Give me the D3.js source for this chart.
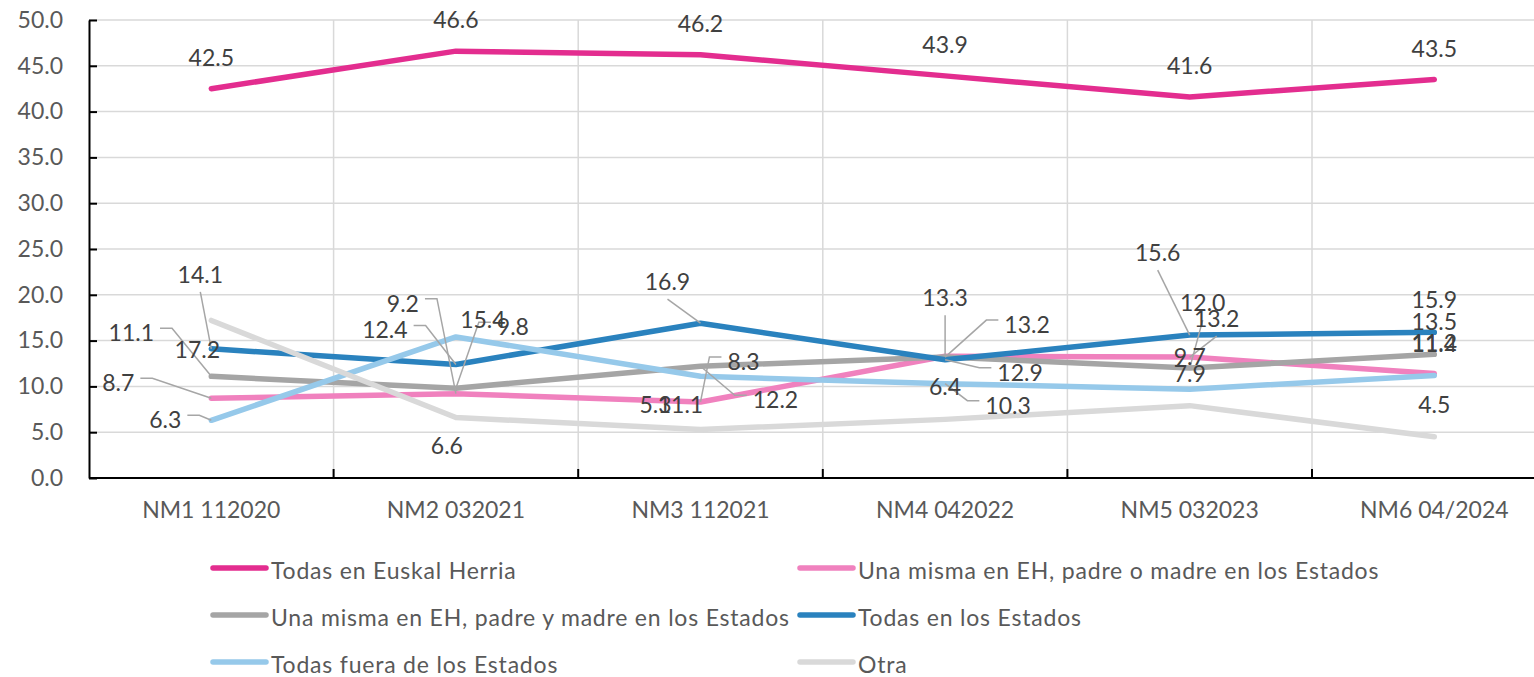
<!DOCTYPE html>
<html>
<head>
<meta charset="utf-8">
<script src="https://cdn.jsdelivr.net/npm/d3@7"></script>
<style>
  body { margin: 0; background: #fff; }
  svg { display: block; font-family: Lato, "Noto Sans", sans-serif; }
</style>
</head>
<body>
<svg id="chart" width="1534" height="677"></svg>
<script>
// data
var categories = ["NM1 112020", "NM2 032021", "NM3 112021", "NM4 042022", "NM5 032023", "NM6 04/2024"];
var seriesNames = [
  "Todas en Euskal Herria",
  "Una misma en EH, padre o madre en los Estados",
  "Una misma en EH, padre y madre en los Estados",
  "Todas en los Estados",
  "Todas fuera de los Estados",
  "Otra"
];
var todasEH      = [42.5, 46.6, 46.2, 43.9, 41.6, 43.5];
var padreOMadre  = [8.7, 9.2, 8.3, 13.3, 13.2, 11.4];
var padreYMadre  = [11.1, 9.8, 12.2, 13.2, 12.0, 13.5];
var todasEstados = [14.1, 12.4, 16.9, 12.9, 15.6, 15.9];
var todasFuera   = [6.3, 15.4, 11.1, 10.3, 9.7, 11.2];
var otra         = [17.2, 6.6, 5.3, 6.4, 7.9, 4.5];
var yTicks = [0, 5, 10, 15, 20, 25, 30, 35, 40, 45, 50];

var allValues = [todasEH, padreOMadre, padreYMadre, todasEstados, todasFuera, otra];
var colors = ["#e32d8f", "#f081be", "#a5a5a5", "#2a82be", "#96c9ea", "#d9d9d9"];

// where each data label sits, relative to its point [dx, dy, leader]
var labelPos = [
  [[0,-32,0],[0,-32,0],[0,-32,0],[0,-32,0],[0,-32,0],[0,-32,0]],
  [[-93,-16,1],[-53,-91,1],[43,-41,1],[0,-59,1],[27,-39,1],[0,-31,0]],
  [[-80,-44,1],[57,-62,1],[75,33,1],[82,-33,1],[13,-66,1],[0,-33,0]],
  [[-11,-75,1],[-71,-35,1],[-33,-42,1],[75,12,1],[-32,-83,1],[0,-33,0]],
  [[-46,-1,1],[27,-18,0],[-20,28,0],[63,21,1],[0,-33,0],[0,-33,0]],
  [[-14,29,0],[-9,27,0],[-45,-25,0],[0,-33,0],[0,-33,0],[0,-33,0]]
];

var svg = d3.select("#chart");
var plotLeft = 89, plotTop = 20, plotBottom = 478, bandW = 244.6;

var x = d3.scaleBand()
    .domain(categories)
    .range([plotLeft, plotLeft + bandW * categories.length]);
var y = d3.scaleLinear()
    .domain([0, 50])
    .range([plotBottom, plotTop]);
function cx(i) { return x(categories[i]) + x.bandwidth() / 2; }

// gridlines
svg.append("g")
  .selectAll("line")
  .data(yTicks.slice(1))
  .enter().append("line")
    .attr("x1", plotLeft).attr("x2", 1534)
    .attr("y1", function(d) { return y(d); })
    .attr("y2", function(d) { return y(d); })
    .attr("stroke", "#d9d9d9").attr("stroke-width", 1.5);

svg.append("g")
  .selectAll("line")
  .data(categories.slice(1))
  .enter().append("line")
    .attr("x1", function(d) { return x(d); })
    .attr("x2", function(d) { return x(d); })
    .attr("y1", plotTop).attr("y2", plotBottom)
    .attr("stroke", "#d9d9d9").attr("stroke-width", 1.5);

// y axis
var yAxis = svg.append("g")
    .attr("transform", "translate(" + plotLeft + ",0)")
    .call(d3.axisLeft(y)
      .tickValues(yTicks)
      .tickFormat(d3.format(".1f"))
      .tickSizeInner(-8)
      .tickSizeOuter(0)
      .tickPadding(26));
yAxis.select(".domain").attr("stroke", "#000").attr("stroke-width", 2);
yAxis.selectAll(".tick line").attr("stroke", "#000").attr("stroke-width", 2);
yAxis.selectAll("text")
    .attr("font-size", 23).attr("fill", "#595959")
    .attr("font-family", "Lato, sans-serif");

// x axis: labels from the band scale, ticks between categories
var xAxis = svg.append("g")
    .attr("transform", "translate(0," + plotBottom + ")")
    .call(d3.axisBottom(x).tickSize(0).tickPadding(24));
xAxis.select(".domain").remove();
xAxis.selectAll("text")
    .attr("font-size", 23).attr("fill", "#595959")
    .attr("font-family", "Lato, sans-serif");

svg.append("line")
    .attr("x1", plotLeft).attr("x2", 1534)
    .attr("y1", plotBottom).attr("y2", plotBottom)
    .attr("stroke", "#000").attr("stroke-width", 2);
svg.append("g")
  .selectAll("line")
  .data(categories.slice(1))
  .enter().append("line")
    .attr("x1", function(d) { return x(d); })
    .attr("x2", function(d) { return x(d); })
    .attr("y1", plotBottom - 9).attr("y2", plotBottom)
    .attr("stroke", "#000").attr("stroke-width", 2);

// lines
var line = d3.line()
    .x(function(d, i) { return cx(i); })
    .y(function(d) { return y(d); });

svg.append("g")
  .selectAll("path")
  .data(allValues)
  .enter().append("path")
    .attr("d", line)
    .attr("fill", "none")
    .attr("stroke", function(d, i) { return colors[i]; })
    .attr("stroke-width", 5.5)
    .attr("stroke-linecap", "round")
    .attr("stroke-linejoin", "round");

// data labels with leader lines
var leaders = svg.append("g");
var labels = svg.append("g");
allValues.forEach(function(vals, s) {
  vals.forEach(function(v, i) {
    var px = cx(i), py = y(v);
    var p = labelPos[s][i];
    var lx = px + p[0], ly = py + p[1];
    var t = labels.append("text")
        .attr("x", lx).attr("y", ly)
        .attr("text-anchor", "middle")
        .attr("dominant-baseline", "central")
        .attr("font-size", 23)
        .attr("fill", "#404040")
        .text(d3.format(".1f")(v));
    if (!p[2]) return;
    var w = t.node().getComputedTextLength();
    var pts;
    if (Math.abs(p[0]) > w / 2 + 15) {
      var sgn = p[0] < 0 ? 1 : -1;
      var sx = lx + sgn * (w / 2 + 6);
      pts = [[sx, ly - 4], [sx + sgn * 12, ly - 4], [px, py]];
    } else {
      var sy = ly + (p[1] < 0 ? 18 : -16);
      pts = [[lx, sy], [px, py]];
    }
    leaders.append("path")
        .attr("d", d3.line()(pts))
        .attr("fill", "none")
        .attr("stroke", "#a6a6a6")
        .attr("stroke-width", 1.5);
  });
});

// legend, two columns
var legend = svg.append("g");
seriesNames.forEach(function(name, k) {
  var col = k % 2, row = Math.floor(k / 2);
  var gx = col ? 798 : 211;
  var gy = 568 + row * 47;
  legend.append("line")
      .attr("x1", gx + 2).attr("x2", gx + 55)
      .attr("y1", gy).attr("y2", gy)
      .attr("stroke", colors[k]).attr("stroke-width", 5.5)
      .attr("stroke-linecap", "round");
  legend.append("text")
      .attr("x", gx + 60).attr("y", gy + 2)
      .attr("dominant-baseline", "central")
      .attr("font-size", 23)
      .attr("letter-spacing", 0.8)
      .attr("fill", "#595959")
      .text(name);
});
</script>
</body>
</html>
